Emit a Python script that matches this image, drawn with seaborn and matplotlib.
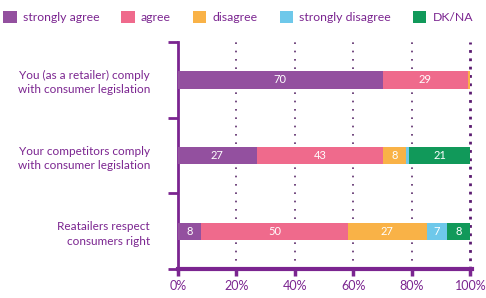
import numpy as np
import pandas as pd
import matplotlib
matplotlib.use("Agg")
import matplotlib.pyplot as plt
from matplotlib.patches import Patch
import seaborn as sns

questions = ["You (as a retailer) comply\nwith consumer legislation",
             "Your competitors comply\nwith consumer legislation",
             "Reatailers respect\nconsumers right"]
answers = ["strongly agree", "agree", "disagree", "strongly disagree", "DK/NA"]
strongly_agree = [70, 27, 8]
agree = [29, 43, 50]
disagree = [1, 8, 27]
strongly_disagree = [0, 1, 7]
dk_na = [0, 21, 8]
colors = ["#93509f", "#ef6a8c", "#f9b247", "#6ec8ea", "#11995a"]
purple = "#7b2590"

sns.set_style("white")
plt.rcParams['font.family'] = ['Lato', 'DejaVu Sans']

values = np.array([strongly_agree, agree, disagree, strongly_disagree, dk_na])
cum = values.cumsum(axis=0)
df = pd.DataFrame(cum.T, columns=answers)
df["question"] = questions

fig = plt.figure(figsize=(4.86, 2.98), dpi=100)
ax = fig.add_axes([0.366, 0.097, 0.605, 0.762])

# stacked bars: draw cumulative totals from the right end backwards
for i in range(len(answers) - 1, -1, -1):
    sns.barplot(data=df, x=answers[i], y="question", color=colors[i],
                width=0.23, saturation=1, ax=ax, zorder=3, edgecolor="none")

for q in range(len(questions)):
    for i in range(len(answers)):
        v = values[i, q]
        if v >= 5:
            ax.text(cum[i, q] - v / 2, q, str(v), ha="center", va="center",
                    color="white", fontsize=8, zorder=5)

ax.set_xlim(0, 100.5)
ax.set_ylim(2.5, -0.5)
ax.set_xticks([0, 20, 40, 60, 80, 100])
ax.set_xticklabels(["0%", "20%", "40%", "60%", "80%", "100%"])
ax.set_xlabel("")
ax.set_ylabel("")
ax.set_yticks([0, 1, 2])
ax.set_yticklabels(questions, color=purple, fontsize=8.5, ha="right",
                   linespacing=1.4)
ax.set_yticks([-0.5, 0.5, 1.5, 2.5], minor=True)
ax.tick_params(axis="y", which="major", length=0, pad=20)
ax.tick_params(axis="y", which="minor", left=True, length=7, width=2,
               color=purple, direction="out")
ax.tick_params(axis="x", bottom=True, length=5, width=2.5, color=purple,
               direction="out", labelcolor=purple, labelsize=9, pad=3)

for x in [20, 40, 60, 80]:
    ax.axvline(x, color="#5a2a6a", linestyle=(0, (1, 4)), linewidth=1.2, zorder=1)
ax.axvline(100, color="#5a1a70", linestyle=(0, (1, 2)), linewidth=2, zorder=1)

for s in ["top", "right"]:
    ax.spines[s].set_visible(False)
ax.spines["left"].set_color(purple)
ax.spines["left"].set_linewidth(2)
ax.spines["bottom"].set_color(purple)
ax.spines["bottom"].set_linewidth(3)

handles = [Patch(facecolor=c, edgecolor="none") for c in colors]
fig.legend(handles, answers, loc="upper center", bbox_to_anchor=(0.49, 1.0), ncol=5,
           frameon=False, fontsize=8.8, handlelength=1.1, handleheight=1.1,
           columnspacing=1.8, handletextpad=0.5, labelcolor=purple)

fig.savefig("out.png", dpi=100)
